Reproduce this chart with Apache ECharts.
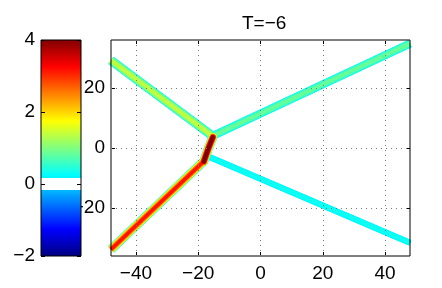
<!DOCTYPE html>
<html><head><meta charset="utf-8">
<script src="https://cdn.jsdelivr.net/npm/echarts@6/dist/echarts.min.js"></script>
<style>html,body{margin:0;padding:0;background:#fff}#c{width:442px;height:288px}</style>
</head><body><div id="c"></div>
<script>
// ---- data ----
const titleText = 'T=\u22126';
const xTicks = [-40, -20, 0, 20, 40];
const yTicks = [-20, 0, 20];
const cbTicks = [-2, 0, 2, 4];
const xRange = [-48, 48];
const yRange = [-36, 36];
const cRange = [-2, 4];
const whiteBand = [-0.17, 0.17];
// soliton branches (polyline points in data coords) and their peak amplitude
const upperLeft  = [[-48, 29.2], [-15.4, 4.0]];
const upperRight = [[-15.4, 4.0], [48, 34.8]];
const lowerRight = [[-16.8, -2.8], [48, -31.6]];
const lowerLeft  = [[-48, -33.8], [-18.0, -4.2]];
const stem       = [[-18.2, -4.5], [-16.7, 0], [-15.3, 3.6]];
const amplitudes = { upperLeft: 1.45, upperRight: 0.9, lowerRight: 0.35, lowerLeft: 3.3, stem: 4.6 };
const branches = { upperLeft, upperRight, lowerRight, lowerLeft, stem };

// ---- style ----
const FONT = '"Liberation Sans", Arial, Helvetica, sans-serif';
const bandWidth = { upperLeft: 9, upperRight: 8, lowerRight: 6, lowerLeft: 9, stem: 9 };
const minus = v => String(v).replace('-', '\u2212');

function jet(v) {
  if (v > whiteBand[0] && v < whiteBand[1]) return 'rgb(255,255,255)';
  let t = (v - cRange[0]) / (cRange[1] - cRange[0]);
  t = Math.max(0, Math.min(1, t));
  const c = x => Math.round(255 * Math.max(0, Math.min(1, x)));
  const r = c(1.5 - Math.abs(4 * t - 3));
  const g = c(1.5 - Math.abs(4 * t - 2));
  const b = c(1.5 - Math.abs(4 * t - 1));
  return `rgb(${r},${g},${b})`;
}

// layered bands (parabolic profile approximation) drawn as stacked line widths
const layers = [];
const N = 10;
for (const name in branches) {
  const A = amplitudes[name];
  const W = bandWidth[name];
  const lo = whiteBand[1];
  for (let i = 0; i < N; i++) {
    const r = i / N;
    const L = lo + (A - lo) * r;
    const mid = lo + (A - lo) * (i + 0.5) / N;
    const width = W * Math.sqrt(1 - r);
    layers.push({ name, level: L, color: jet(mid), width });
  }
}
layers.sort((a, b) => a.level - b.level);

const series = layers.map(l => ({
  type: 'line', xAxisIndex: 0, yAxisIndex: 0,
  data: branches[l.name], showSymbol: false, symbol: 'none', silent: true,
  lineStyle: { color: l.color, width: Math.max(l.width, 0.8), cap: l.name === 'stem' ? 'round' : 'butt', join: 'round' },
  z: 3, animation: false
}));

// grid lines via markLine on the tick arrays
series.unshift({
  type: 'line', xAxisIndex: 0, yAxisIndex: 0, data: [], silent: true, z: 1,
  markLine: {
    silent: true, symbol: ['none', 'none'], label: { show: false }, animation: false,
    lineStyle: { color: '#777', width: 1, type: [1, 4] },
    data: xTicks.map(v => ({ xAxis: v })).concat(yTicks.map(v => ({ yAxis: v })))
  }
});

// colorbar
const stops = [];
const M = 128;
for (let i = 0; i <= M; i++) {
  const v = cRange[0] + (cRange[1] - cRange[0]) * i / M;
  if (v > whiteBand[0] && v < whiteBand[1]) continue;
  stops.push({ offset: i / M, color: jet(v) });
}
const o0 = (whiteBand[0] - cRange[0]) / (cRange[1] - cRange[0]);
const o1 = (whiteBand[1] - cRange[0]) / (cRange[1] - cRange[0]);
stops.push({ offset: o0, color: jet(whiteBand[0] - 1e-6) }, { offset: o0, color: '#fff' },
           { offset: o1, color: '#fff' }, { offset: o1, color: jet(whiteBand[1] + 1e-6) });
stops.sort((a, b) => a.offset - b.offset);

series.push({
  type: 'custom', xAxisIndex: 2, yAxisIndex: 4, data: [[0, 0]], z: 10, silent: true, animation: false,
  renderItem: (params, api) => {
    const p0 = api.coord([0, cRange[0]]);
    const p1 = api.coord([1, cRange[1]]);
    return {
      type: 'rect',
      shape: { x: p0[0], y: p1[1], width: p1[0] - p0[0], height: p0[1] - p1[1] },
      style: { fill: new echarts.graphic.LinearGradient(0, 1, 0, 0, stops), stroke: '#000', lineWidth: 1 }
    };
  }
});

const tickStyle = { show: true, inside: true, length: 4, lineStyle: { color: '#000', width: 1 } };
const labelStyle = { color: '#000', fontSize: 19, fontFamily: FONT, formatter: minus };
const noLine = { show: false, onZero: false };

const option = {
  backgroundColor: '#fff',
  animation: false,
  title: {
    text: titleText, left: 237, top: 9,
    textStyle: { fontSize: 19, fontWeight: 'normal', color: '#000', fontFamily: FONT }
  },
  grid: [
    { left: 111, right: 32, top: 40, bottom: 32, show: true, borderColor: '#000', borderWidth: 1, backgroundColor: 'transparent', z: 4 },
    { left: 41, width: 40, top: 40, bottom: 32, show: false }
  ],
  xAxis: [
    { gridIndex: 0, type: 'value', min: xRange[0], max: xRange[1], position: 'bottom',
      axisLine: noLine, splitLine: { show: false },
      axisTick: Object.assign({ customValues: xTicks }, tickStyle),
      axisLabel: Object.assign({ customValues: xTicks, margin: 8 }, labelStyle) },
    { gridIndex: 0, type: 'value', min: xRange[0], max: xRange[1], position: 'top',
      axisLine: noLine, splitLine: { show: false },
      axisTick: Object.assign({ customValues: xTicks }, tickStyle), axisLabel: { show: false } },
    { gridIndex: 1, type: 'value', min: 0, max: 1, show: false }
  ],
  yAxis: [
    { gridIndex: 0, type: 'value', min: yRange[0], max: yRange[1], position: 'left',
      axisLine: noLine, splitLine: { show: false },
      axisTick: Object.assign({ customValues: yTicks }, tickStyle),
      axisLabel: Object.assign({ customValues: yTicks, margin: 6 }, labelStyle) },
    { gridIndex: 0, type: 'value', min: yRange[0], max: yRange[1], position: 'right',
      axisLine: noLine, splitLine: { show: false },
      axisTick: Object.assign({ customValues: yTicks }, tickStyle), axisLabel: { show: false } },
    { gridIndex: 1, type: 'value', min: cRange[0], max: cRange[1], position: 'left',
      axisLine: noLine, splitLine: { show: false },
      axisTick: Object.assign({ customValues: cbTicks }, tickStyle),
      axisLabel: Object.assign({ customValues: cbTicks, margin: 6 }, labelStyle), z: 12 },
    { gridIndex: 1, type: 'value', min: cRange[0], max: cRange[1], position: 'right',
      axisLine: noLine, splitLine: { show: false },
      axisTick: Object.assign({ customValues: cbTicks }, tickStyle), axisLabel: { show: false }, z: 12 },
    { gridIndex: 1, type: 'value', min: cRange[0], max: cRange[1], show: false }
  ],
  series
};
const chart = echarts.init(document.getElementById('c'), null, { renderer: 'canvas' });
chart.setOption(option);
</script></body></html>
